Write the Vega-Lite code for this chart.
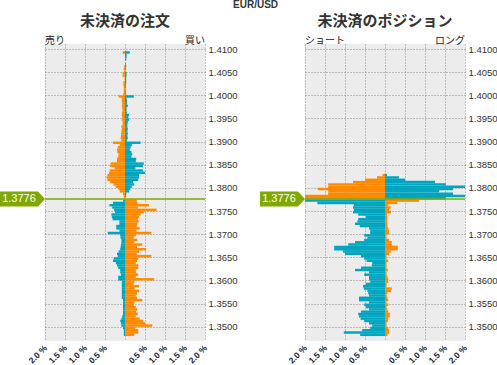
{
"$schema": "https://vega.github.io/schema/vega-lite/v6.json",
"background": "white",
"padding": {"left": 45, "top": 44, "right": 452, "bottom": 321},
"autosize": {"type": "none"},
"bounds": "flush",
"spacing": 100,
"title": {"text": "EUR/USD", "fontSize": 10, "fontWeight": "bold", "font": "Liberation Sans", "color": "#333333", "anchor": "middle", "dx": 7, "offset": 4},
"config": {"view": {"stroke": null, "fill": "#ececec"}, "axis": {"labelOverlap": false}},
"datasets": {
"ord": [
{"p":1.40975,"l":0,"r":0},{"p":1.40925,"l":0.06,"r":0.12},{"p":1.40875,"l":0,"r":0.04},{"p":1.40825,"l":0,"r":0.04},{"p":1.40775,"l":0,"r":0.03},{"p":1.40725,"l":0,"r":0},{"p":1.40675,"l":0,"r":0.02},{"p":1.40625,"l":0.02,"r":0.03},{"p":1.40575,"l":0.03,"r":0.02},{"p":1.40525,"l":0.02,"r":0.01},
{"p":1.40475,"l":0.06,"r":0.04},{"p":1.40425,"l":0.06,"r":0.04},{"p":1.40375,"l":0.01,"r":0.03},{"p":1.40325,"l":0.01,"r":0.03},{"p":1.40275,"l":0.04,"r":0.03},{"p":1.40225,"l":0.04,"r":0.02},{"p":1.40175,"l":0.03,"r":0.02},{"p":1.40125,"l":0.03,"r":0.01},{"p":1.40075,"l":0.03,"r":0.02},{"p":1.40025,"l":0.04,"r":0.02},
{"p":1.39975,"l":0.16,"r":0.22},{"p":1.39925,"l":0.08,"r":0.04},{"p":1.39875,"l":0.08,"r":0.05},{"p":1.39825,"l":0.07,"r":0.05},{"p":1.39775,"l":0.08,"r":0.07},{"p":1.39725,"l":0.07,"r":0.04},{"p":1.39675,"l":0.06,"r":0.04},{"p":1.39625,"l":0.08,"r":0.05},{"p":1.39575,"l":0.08,"r":0.1},{"p":1.39525,"l":0.07,"r":0.08},
{"p":1.39475,"l":0.08,"r":0.1},{"p":1.39425,"l":0.06,"r":0.07},{"p":1.39375,"l":0.06,"r":0.06},{"p":1.39325,"l":0.09,"r":0.06},{"p":1.39275,"l":0.08,"r":0.07},{"p":1.39225,"l":0.09,"r":0.06},{"p":1.39175,"l":0.1,"r":0.07},{"p":1.39125,"l":0.1,"r":0.06},{"p":1.39075,"l":0.11,"r":0.07},{"p":1.39025,"l":0.09,"r":0.05},
{"p":1.38975,"l":0.3,"r":0.39},{"p":1.38925,"l":0.13,"r":0.17},{"p":1.38875,"l":0.18,"r":0.14},{"p":1.38825,"l":0.2,"r":0.12},{"p":1.38775,"l":0.19,"r":0.16},{"p":1.38725,"l":0.16,"r":0.18},{"p":1.38675,"l":0.17,"r":0.16},{"p":1.38625,"l":0.2,"r":0.28},{"p":1.38575,"l":0.2,"r":0.27},{"p":1.38525,"l":0.36,"r":0.47},
{"p":1.38475,"l":0.37,"r":0.45},{"p":1.38425,"l":0.26,"r":0.26},{"p":1.38375,"l":0.38,"r":0.45},{"p":1.38325,"l":0.4,"r":0.5},{"p":1.38275,"l":0.44,"r":0.35},{"p":1.38225,"l":0.46,"r":0.35},{"p":1.38175,"l":0.44,"r":0.33},{"p":1.38125,"l":0.37,"r":0.2},{"p":1.38075,"l":0.29,"r":0.23},{"p":1.38025,"l":0.23,"r":0.17},
{"p":1.37975,"l":0.16,"r":0.13},{"p":1.37925,"l":0.13,"r":0.1},{"p":1.37875,"l":0.05,"r":0.03},{"p":1.37825,"l":0.03,"r":0.02},{"p":1.37775,"l":0.02,"r":0},{"p":1.37725,"l":0.05,"r":0.29},{"p":1.37675,"l":0.3,"r":0.31},{"p":1.37625,"l":0.39,"r":0.6},{"p":1.37575,"l":0.32,"r":0.32},{"p":1.37525,"l":0.27,"r":0.79},
{"p":1.37475,"l":0.25,"r":0.47},{"p":1.37425,"l":0.34,"r":0.39},{"p":1.37375,"l":0.33,"r":0.35},{"p":1.37325,"l":0.31,"r":0.32},{"p":1.37275,"l":0.14,"r":0.34},{"p":1.37225,"l":0.14,"r":0.31},{"p":1.37175,"l":0.22,"r":0.29},{"p":1.37125,"l":0.22,"r":0.37},{"p":1.37075,"l":0.14,"r":0.29},{"p":1.37025,"l":0.43,"r":0.66},
{"p":1.36975,"l":0.12,"r":0.27},{"p":1.36925,"l":0.11,"r":0.22},{"p":1.36875,"l":0.09,"r":0.31},{"p":1.36825,"l":0.09,"r":0.23},{"p":1.36775,"l":0.1,"r":0.43},{"p":1.36725,"l":0.11,"r":0.3},{"p":1.36675,"l":0.12,"r":0.53},{"p":1.36625,"l":0.16,"r":0.35},{"p":1.36575,"l":0.2,"r":0.29},{"p":1.36525,"l":0.18,"r":0.66},
{"p":1.36475,"l":0.28,"r":0.33},{"p":1.36425,"l":0.3,"r":0.3},{"p":1.36375,"l":0.23,"r":0.27},{"p":1.36325,"l":0.2,"r":0.33},{"p":1.36275,"l":0.17,"r":0.33},{"p":1.36225,"l":0.12,"r":0.27},{"p":1.36175,"l":0.12,"r":0.28},{"p":1.36125,"l":0.1,"r":0.33},{"p":1.36075,"l":0.17,"r":0.27},{"p":1.36025,"l":0.17,"r":0.73},
{"p":1.35975,"l":0.08,"r":0.24},{"p":1.35925,"l":0.08,"r":0.22},{"p":1.35875,"l":0.08,"r":0.35},{"p":1.35825,"l":0.08,"r":0.24},{"p":1.35775,"l":0.08,"r":0.35},{"p":1.35725,"l":0.08,"r":0.3},{"p":1.35675,"l":0.08,"r":0.27},{"p":1.35625,"l":0.08,"r":0.3},{"p":1.35575,"l":0.05,"r":0.43},{"p":1.35525,"l":0.05,"r":0.24},
{"p":1.35475,"l":0.05,"r":0.22},{"p":1.35425,"l":0.05,"r":0.27},{"p":1.35375,"l":0.05,"r":0.3},{"p":1.35325,"l":0.05,"r":0.28},{"p":1.35275,"l":0.05,"r":0.32},{"p":1.35225,"l":0.07,"r":0.27},{"p":1.35175,"l":0.09,"r":0.37},{"p":1.35125,"l":0.12,"r":0.45},{"p":1.35075,"l":0.1,"r":0.5},{"p":1.35025,"l":0.09,"r":0.68},
{"p":1.34975,"l":0.05,"r":0.26},{"p":1.34925,"l":0.03,"r":0.33},{"p":1.34875,"l":0.03,"r":0.33},{"p":1.34825,"l":0.03,"r":0.23}
],
"pos": [
{"p":1.38275,"l":0.06,"r":0.05},{"p":1.38225,"l":0.2,"r":0.35},{"p":1.38175,"l":0.5,"r":0.5},{"p":1.38125,"l":0.8,"r":1.25},{"p":1.38075,"l":1.42,"r":1.52},{"p":1.38025,"l":1.42,"r":2.1},{"p":1.37975,"l":1.68,"r":1.7},{"p":1.37925,"l":1.42,"r":1.35},{"p":1.37875,"l":1.42,"r":1.7},{"p":1.37825,"l":2.1,"r":2.1},
{"p":1.37775,"l":2.1,"r":1.52},{"p":1.37725,"l":2.1,"r":0.85},{"p":1.37675,"l":1.69,"r":0.31},{"p":1.37625,"l":0.78,"r":0.08},{"p":1.37575,"l":0.8,"r":0.14},{"p":1.37525,"l":0.78,"r":0.1},{"p":1.37475,"l":0.8,"r":0.15},{"p":1.37425,"l":0.67,"r":0.05},{"p":1.37375,"l":0.48,"r":0.06},{"p":1.37325,"l":0.67,"r":0.06},
{"p":1.37275,"l":0.69,"r":0.06},{"p":1.37225,"l":0.75,"r":0.06},{"p":1.37175,"l":0.63,"r":0.06},{"p":1.37125,"l":0.4,"r":0.08},{"p":1.37075,"l":0.37,"r":0.1},{"p":1.37025,"l":0.37,"r":0.1},{"p":1.36975,"l":0.52,"r":0.04},{"p":1.36925,"l":0.44,"r":0.04},{"p":1.36875,"l":0.52,"r":0.1},{"p":1.36825,"l":0.75,"r":0.17},
{"p":1.36775,"l":0.92,"r":0.17},{"p":1.36725,"l":1.27,"r":0.32},{"p":1.36675,"l":1.27,"r":0.32},{"p":1.36625,"l":1.05,"r":0.14},{"p":1.36575,"l":1.0,"r":0.1},{"p":1.36525,"l":0.6,"r":0.04},{"p":1.36475,"l":0.52,"r":0.04},{"p":1.36425,"l":0.46,"r":0.08},{"p":1.36375,"l":0.32,"r":0.04},{"p":1.36325,"l":0.33,"r":0.04},
{"p":1.36275,"l":0.6,"r":0.04},{"p":1.36225,"l":0.75,"r":0.07},{"p":1.36175,"l":0.4,"r":0.04},{"p":1.36125,"l":0.52,"r":0.04},{"p":1.36075,"l":0.4,"r":0.06},{"p":1.36025,"l":0.4,"r":0.08},{"p":1.35975,"l":0.37,"r":0.08},{"p":1.35925,"l":0.48,"r":0.04},{"p":1.35875,"l":0.55,"r":0.04},{"p":1.35825,"l":0.53,"r":0.17},
{"p":1.35775,"l":0.44,"r":0.15},{"p":1.35725,"l":0.42,"r":0.06},{"p":1.35675,"l":0.4,"r":0.04},{"p":1.35625,"l":0.65,"r":0.06},{"p":1.35575,"l":0.65,"r":0.08},{"p":1.35525,"l":0.4,"r":0.04},{"p":1.35475,"l":0.52,"r":0.08},{"p":1.35425,"l":0.48,"r":0.04},{"p":1.35375,"l":0.4,"r":0.06},{"p":1.35325,"l":0.6,"r":0.08},
{"p":1.35275,"l":0.67,"r":0.12},{"p":1.35225,"l":0.65,"r":0.12},{"p":1.35175,"l":0.61,"r":0.08},{"p":1.35125,"l":0.52,"r":0.07},{"p":1.35075,"l":0.4,"r":0.04},{"p":1.35025,"l":0.32,"r":0.04},{"p":1.34975,"l":0.37,"r":0.08},{"p":1.34925,"l":0.57,"r":0.1},{"p":1.34875,"l":1.03,"r":0.1},{"p":1.34825,"l":0.62,"r":0.06}
]
},
"hconcat": [
{
"width": 160, "height": 297,
"title": {"text": "未決済の注文", "fontSize": 15, "fontWeight": "bold", "font": "Noto Sans CJK JP", "color": "#333333", "offset": 7},
"layer": [
{"data": {"name": "ord"},
 "mark": {"type": "bar", "orient": "horizontal", "height": 2.45, "clip": true},
 "encoding": {
  "y": {"field": "p", "type": "quantitative", "scale": {"domain": [1.348, 1.41], "nice": false, "zero": false},
        "axis": {"orient": "right", "values": [1.35,1.355,1.36,1.365,1.37,1.375,1.38,1.385,1.39,1.395,1.4,1.405,1.41], "format": ".4f", "ticks": false, "domain": false, "title": null, "labelOverlap": false, "labelBound": false, "labelFont": "Liberation Sans", "labelFontSize": 9.5, "labelColor": "#333333", "labelPadding": 3, "grid": true, "gridDash": [1,2], "gridColor": "#888888", "gridOpacity": 1}},
  "x": {"field": "l", "type": "quantitative", "scale": {"domain": [-2, 2], "reverse": true, "nice": false}, "axis": null},
  "color": {"condition": {"test": "datum.p > 1.3776", "value": "#ff8a00"}, "value": "#00a6c0"}
 }},
{"data": {"name": "ord"},
 "mark": {"type": "bar", "orient": "horizontal", "height": 2.45, "clip": true},
 "encoding": {
  "y": {"field": "p", "type": "quantitative", "scale": {"domain": [1.348, 1.41], "nice": false, "zero": false},
        "axis": {"orient": "right", "values": [1.35,1.355,1.36,1.365,1.37,1.375,1.38,1.385,1.39,1.395,1.4,1.405,1.41], "format": ".4f", "ticks": false, "domain": false, "title": null, "labelOverlap": false, "labelBound": false, "labelFont": "Liberation Sans", "labelFontSize": 9.5, "labelColor": "#333333", "labelPadding": 3, "grid": true, "gridDash": [1,2], "gridColor": "#888888", "gridOpacity": 1}},
  "x": {"field": "r", "type": "quantitative", "scale": {"domain": [-2, 2], "nice": false},
        "axis": {"values": [-2,-1.5,-1,-0.5,0,0.5,1,1.5,2], "labelExpr": "datum.value == 0 ? '' : format(abs(datum.value), '.1f') + ' %'", "labelAngle": -45, "labelAlign": "right", "labelBaseline": "middle", "labelOverlap": false, "labelBound": false, "ticks": false, "tickSize": 0, "domain": false, "title": null, "labelFont": "Liberation Sans", "labelFontSize": 8.5, "labelFontWeight": "bold", "labelColor": "#222222", "labelPadding": 5, "grid": true, "gridDash": [1,2], "gridColor": "#888888", "gridOpacity": 1}},
  "color": {"condition": {"test": "datum.p > 1.3776", "value": "#00a6c0"}, "value": "#ff8a00"}
 }},
{"data": {"values": [{}]},
 "mark": {"type": "rule", "color": "#80a800", "strokeWidth": 1.5},
 "encoding": {"y": {"datum": 1.3776, "type": "quantitative", "scale": {"domain": [1.348, 1.41], "nice": false, "zero": false},
        "axis": {"orient": "right", "values": [1.35,1.355,1.36,1.365,1.37,1.375,1.38,1.385,1.39,1.395,1.4,1.405,1.41], "format": ".4f", "ticks": false, "domain": false, "title": null, "labelOverlap": false, "labelBound": false, "labelFont": "Liberation Sans", "labelFontSize": 9.5, "labelColor": "#333333", "labelPadding": 3, "grid": true, "gridDash": [1,2], "gridColor": "#888888", "gridOpacity": 1}}}},
{"data": {"values": [{}]},
 "mark": {"type": "point", "shape": "M-1,-0.33L0.69,-0.33L1,0L0.69,0.33L-1,0.33Z", "filled": true, "size": 2025, "color": "#80a800", "opacity": 1},
 "encoding": {"x": {"datum": -2.5625, "type": "quantitative", "scale": {"domain": [-2, 2], "nice": false}, "axis": null},
              "y": {"datum": 1.3776, "type": "quantitative", "scale": {"domain": [1.348, 1.41], "nice": false, "zero": false},
        "axis": {"orient": "right", "values": [1.35,1.355,1.36,1.365,1.37,1.375,1.38,1.385,1.39,1.395,1.4,1.405,1.41], "format": ".4f", "ticks": false, "domain": false, "title": null, "labelOverlap": false, "labelBound": false, "labelFont": "Liberation Sans", "labelFontSize": 9.5, "labelColor": "#333333", "labelPadding": 3, "grid": true, "gridDash": [1,2], "gridColor": "#888888", "gridOpacity": 1}}}},
{"data": {"values": [{}]},
 "mark": {"type": "text", "align": "center", "baseline": "middle", "font": "Liberation Sans", "fontSize": 11, "color": "#ffffff"},
 "encoding": {"x": {"datum": -2.65, "type": "quantitative", "scale": {"domain": [-2, 2], "nice": false}, "axis": null},
              "y": {"datum": 1.3776, "type": "quantitative", "scale": {"domain": [1.348, 1.41], "nice": false, "zero": false},
        "axis": {"orient": "right", "values": [1.35,1.355,1.36,1.365,1.37,1.375,1.38,1.385,1.39,1.395,1.4,1.405,1.41], "format": ".4f", "ticks": false, "domain": false, "title": null, "labelOverlap": false, "labelBound": false, "labelFont": "Liberation Sans", "labelFontSize": 9.5, "labelColor": "#333333", "labelPadding": 3, "grid": true, "gridDash": [1,2], "gridColor": "#888888", "gridOpacity": 1}},
              "text": {"value": "1.3776"}}},
{"data": {"values": [{}]},
 "mark": {"type": "text", "align": "left", "baseline": "bottom", "dy": -3, "font": "Noto Sans CJK JP", "fontSize": 10, "color": "#222222"},
 "encoding": {"x": {"datum": -2, "type": "quantitative", "scale": {"domain": [-2, 2], "nice": false}, "axis": null},
              "y": {"datum": 1.41, "type": "quantitative", "scale": {"domain": [1.348, 1.41], "nice": false, "zero": false},
        "axis": {"orient": "right", "values": [1.35,1.355,1.36,1.365,1.37,1.375,1.38,1.385,1.39,1.395,1.4,1.405,1.41], "format": ".4f", "ticks": false, "domain": false, "title": null, "labelOverlap": false, "labelBound": false, "labelFont": "Liberation Sans", "labelFontSize": 9.5, "labelColor": "#333333", "labelPadding": 3, "grid": true, "gridDash": [1,2], "gridColor": "#888888", "gridOpacity": 1}},
              "text": {"value": "売り"}}},
{"data": {"values": [{}]},
 "mark": {"type": "text", "align": "right", "baseline": "bottom", "dy": -3, "font": "Noto Sans CJK JP", "fontSize": 10, "color": "#222222"},
 "encoding": {"x": {"datum": 2, "type": "quantitative", "scale": {"domain": [-2, 2], "nice": false}, "axis": null},
              "y": {"datum": 1.41, "type": "quantitative", "scale": {"domain": [1.348, 1.41], "nice": false, "zero": false},
        "axis": {"orient": "right", "values": [1.35,1.355,1.36,1.365,1.37,1.375,1.38,1.385,1.39,1.395,1.4,1.405,1.41], "format": ".4f", "ticks": false, "domain": false, "title": null, "labelOverlap": false, "labelBound": false, "labelFont": "Liberation Sans", "labelFontSize": 9.5, "labelColor": "#333333", "labelPadding": 3, "grid": true, "gridDash": [1,2], "gridColor": "#888888", "gridOpacity": 1}},
              "text": {"value": "買い"}}}
],
"resolve": {"scale": {"x": "independent"}}
},
{
"width": 160, "height": 297,
"title": {"text": "未決済のポジション", "fontSize": 15, "fontWeight": "bold", "font": "Noto Sans CJK JP", "color": "#333333", "offset": 7},
"layer": [
{"data": {"name": "pos"},
 "mark": {"type": "bar", "orient": "horizontal", "height": 2.45, "clip": true},
 "encoding": {
  "y": {"field": "p", "type": "quantitative", "scale": {"domain": [1.348, 1.41], "nice": false, "zero": false},
        "axis": {"orient": "right", "values": [1.35,1.355,1.36,1.365,1.37,1.375,1.38,1.385,1.39,1.395,1.4,1.405,1.41], "format": ".4f", "ticks": false, "domain": false, "title": null, "labelOverlap": false, "labelBound": false, "labelFont": "Liberation Sans", "labelFontSize": 9.5, "labelColor": "#333333", "labelPadding": 3, "grid": true, "gridDash": [1,2], "gridColor": "#888888", "gridOpacity": 1}},
  "x": {"field": "l", "type": "quantitative", "scale": {"domain": [-2, 2], "reverse": true, "nice": false}, "axis": null},
  "color": {"condition": {"test": "datum.p > 1.3776", "value": "#ff8a00"}, "value": "#00a6c0"}
 }},
{"data": {"name": "pos"},
 "mark": {"type": "bar", "orient": "horizontal", "height": 2.45, "clip": true},
 "encoding": {
  "y": {"field": "p", "type": "quantitative", "scale": {"domain": [1.348, 1.41], "nice": false, "zero": false},
        "axis": {"orient": "right", "values": [1.35,1.355,1.36,1.365,1.37,1.375,1.38,1.385,1.39,1.395,1.4,1.405,1.41], "format": ".4f", "ticks": false, "domain": false, "title": null, "labelOverlap": false, "labelBound": false, "labelFont": "Liberation Sans", "labelFontSize": 9.5, "labelColor": "#333333", "labelPadding": 3, "grid": true, "gridDash": [1,2], "gridColor": "#888888", "gridOpacity": 1}},
  "x": {"field": "r", "type": "quantitative", "scale": {"domain": [-2, 2], "nice": false},
        "axis": {"values": [-2,-1.5,-1,-0.5,0,0.5,1,1.5,2], "labelExpr": "datum.value == 0 ? '' : format(abs(datum.value), '.1f') + ' %'", "labelAngle": -45, "labelAlign": "right", "labelBaseline": "middle", "labelOverlap": false, "labelBound": false, "ticks": false, "tickSize": 0, "domain": false, "title": null, "labelFont": "Liberation Sans", "labelFontSize": 8.5, "labelFontWeight": "bold", "labelColor": "#222222", "labelPadding": 5, "grid": true, "gridDash": [1,2], "gridColor": "#888888", "gridOpacity": 1}},
  "color": {"condition": {"test": "datum.p > 1.3776", "value": "#00a6c0"}, "value": "#ff8a00"}
 }},
{"data": {"values": [{}]},
 "mark": {"type": "rule", "color": "#80a800", "strokeWidth": 1.5},
 "encoding": {"y": {"datum": 1.3776, "type": "quantitative", "scale": {"domain": [1.348, 1.41], "nice": false, "zero": false},
        "axis": {"orient": "right", "values": [1.35,1.355,1.36,1.365,1.37,1.375,1.38,1.385,1.39,1.395,1.4,1.405,1.41], "format": ".4f", "ticks": false, "domain": false, "title": null, "labelOverlap": false, "labelBound": false, "labelFont": "Liberation Sans", "labelFontSize": 9.5, "labelColor": "#333333", "labelPadding": 3, "grid": true, "gridDash": [1,2], "gridColor": "#888888", "gridOpacity": 1}}}},
{"data": {"values": [{}]},
 "mark": {"type": "point", "shape": "M-1,-0.33L0.69,-0.33L1,0L0.69,0.33L-1,0.33Z", "filled": true, "size": 2025, "color": "#80a800", "opacity": 1},
 "encoding": {"x": {"datum": -2.5625, "type": "quantitative", "scale": {"domain": [-2, 2], "nice": false}, "axis": null},
              "y": {"datum": 1.3776, "type": "quantitative", "scale": {"domain": [1.348, 1.41], "nice": false, "zero": false},
        "axis": {"orient": "right", "values": [1.35,1.355,1.36,1.365,1.37,1.375,1.38,1.385,1.39,1.395,1.4,1.405,1.41], "format": ".4f", "ticks": false, "domain": false, "title": null, "labelOverlap": false, "labelBound": false, "labelFont": "Liberation Sans", "labelFontSize": 9.5, "labelColor": "#333333", "labelPadding": 3, "grid": true, "gridDash": [1,2], "gridColor": "#888888", "gridOpacity": 1}}}},
{"data": {"values": [{}]},
 "mark": {"type": "text", "align": "center", "baseline": "middle", "font": "Liberation Sans", "fontSize": 11, "color": "#ffffff"},
 "encoding": {"x": {"datum": -2.65, "type": "quantitative", "scale": {"domain": [-2, 2], "nice": false}, "axis": null},
              "y": {"datum": 1.3776, "type": "quantitative", "scale": {"domain": [1.348, 1.41], "nice": false, "zero": false},
        "axis": {"orient": "right", "values": [1.35,1.355,1.36,1.365,1.37,1.375,1.38,1.385,1.39,1.395,1.4,1.405,1.41], "format": ".4f", "ticks": false, "domain": false, "title": null, "labelOverlap": false, "labelBound": false, "labelFont": "Liberation Sans", "labelFontSize": 9.5, "labelColor": "#333333", "labelPadding": 3, "grid": true, "gridDash": [1,2], "gridColor": "#888888", "gridOpacity": 1}},
              "text": {"value": "1.3776"}}},
{"data": {"values": [{}]},
 "mark": {"type": "text", "align": "left", "baseline": "bottom", "dy": -3, "font": "Noto Sans CJK JP", "fontSize": 10, "color": "#222222"},
 "encoding": {"x": {"datum": -2, "type": "quantitative", "scale": {"domain": [-2, 2], "nice": false}, "axis": null},
              "y": {"datum": 1.41, "type": "quantitative", "scale": {"domain": [1.348, 1.41], "nice": false, "zero": false},
        "axis": {"orient": "right", "values": [1.35,1.355,1.36,1.365,1.37,1.375,1.38,1.385,1.39,1.395,1.4,1.405,1.41], "format": ".4f", "ticks": false, "domain": false, "title": null, "labelOverlap": false, "labelBound": false, "labelFont": "Liberation Sans", "labelFontSize": 9.5, "labelColor": "#333333", "labelPadding": 3, "grid": true, "gridDash": [1,2], "gridColor": "#888888", "gridOpacity": 1}},
              "text": {"value": "ショート"}}},
{"data": {"values": [{}]},
 "mark": {"type": "text", "align": "right", "baseline": "bottom", "dy": -3, "font": "Noto Sans CJK JP", "fontSize": 10, "color": "#222222"},
 "encoding": {"x": {"datum": 2, "type": "quantitative", "scale": {"domain": [-2, 2], "nice": false}, "axis": null},
              "y": {"datum": 1.41, "type": "quantitative", "scale": {"domain": [1.348, 1.41], "nice": false, "zero": false},
        "axis": {"orient": "right", "values": [1.35,1.355,1.36,1.365,1.37,1.375,1.38,1.385,1.39,1.395,1.4,1.405,1.41], "format": ".4f", "ticks": false, "domain": false, "title": null, "labelOverlap": false, "labelBound": false, "labelFont": "Liberation Sans", "labelFontSize": 9.5, "labelColor": "#333333", "labelPadding": 3, "grid": true, "gridDash": [1,2], "gridColor": "#888888", "gridOpacity": 1}},
              "text": {"value": "ロング"}}}
],
"resolve": {"scale": {"x": "independent"}}
}
]
}
